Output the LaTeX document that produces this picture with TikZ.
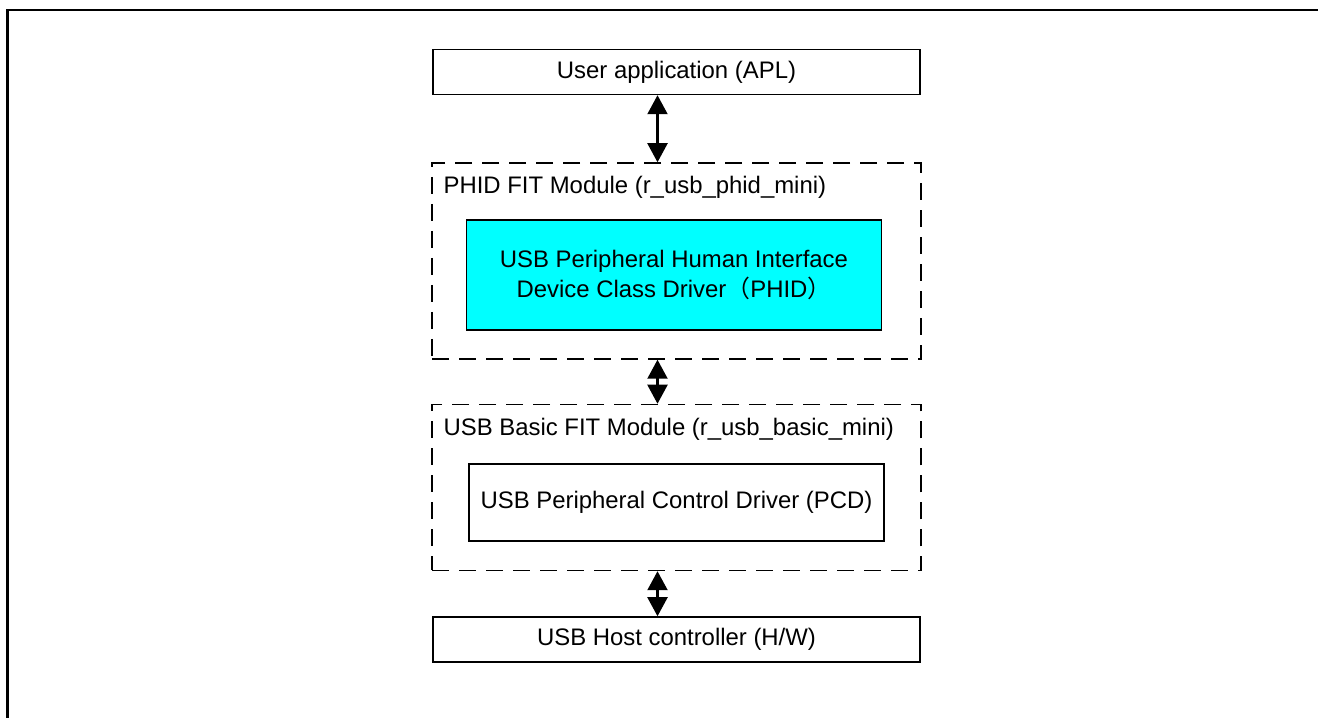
\documentclass[tikz,border=0pt]{standalone}
\usepackage{fontspec}
\setmainfont{Liberation Sans}
\newfontfamily\cjk{Noto Sans CJK SC}
\usetikzlibrary{positioning,arrows.meta}
\definecolor{aqua}{RGB}{0,255,255}

\begin{document}
\begin{tikzpicture}[node distance=1cm, font=\fontsize{13.6}{17}\selectfont]

% Define styles
\tikzstyle{block} = [draw, line width=0.85pt, rectangle, minimum width=9.74cm, minimum height=0.9cm, inner sep=0pt]
\tikzstyle{module} = [draw, line width=0.85pt, dash pattern=on 0.34cm off 0.2cm, rectangle, minimum width=9.78cm, inner sep=0pt]
\tikzstyle{driver} = [draw, line width=0.85pt, rectangle, minimum width=8.3cm, align=center, inner sep=0pt]
\tikzstyle{modname} = [anchor=base west, inner sep=0pt]
\tikzstyle{line} = [{Triangle[length=0.38cm,width=0.4cm]}-{Triangle[length=0.38cm,width=0.4cm]}, line width=1.2pt]
\tikzstyle{pageframe} = [line width=1.2pt]

% Frame
\useasboundingbox (0,0) rectangle (26.36,-14.36);
\draw[pageframe] (0.15,-14.5) -- (0.15,-0.2) -- (26.5,-0.2);

% Top
\node[block] (apl) at (13.53,-1.44) {User application (APL)};

% PHID module
\node[module, minimum height=3.92cm, below=1.34cm of apl] (phid) {};
\node[modname] at ([xshift=0.24cm, yshift=-0.62cm]phid.north west) (phidname) {PHID FIT Module (r\_usb\_phid\_mini)};
\node[driver, fill=aqua, minimum height=2.2cm] at ([xshift=-0.05cm, yshift=-0.28cm]phid.center) (phidd) {USB Peripheral Human Interface\\Device Class Driver{\cjk （}PHID{\cjk ）}};

% Basic module
\node[module, minimum height=3.32cm, below=0.88cm of phid] (basic) {};
\node[modname] at ([xshift=0.24cm, yshift=-0.64cm]basic.north west) (basicname) {USB Basic FIT Module (r\_usb\_basic\_mini)};
\node[driver, minimum height=1.54cm] at ([yshift=-0.3cm]basic.center) (pcd) {USB Peripheral Control Driver (PCD)};

% Bottom
\node[block, below=0.9cm of basic] (host) {USB Host controller (H/W)};

% Arrows
\draw[line] ([xshift=-0.38cm]apl.south) -- ([xshift=-0.38cm]phid.north);
\draw[line] ([xshift=-0.38cm]phid.south) -- ([xshift=-0.38cm]basic.north);
\draw[line] ([xshift=-0.38cm]basic.south) -- ([xshift=-0.38cm]host.north);

\end{tikzpicture}
\end{document}
